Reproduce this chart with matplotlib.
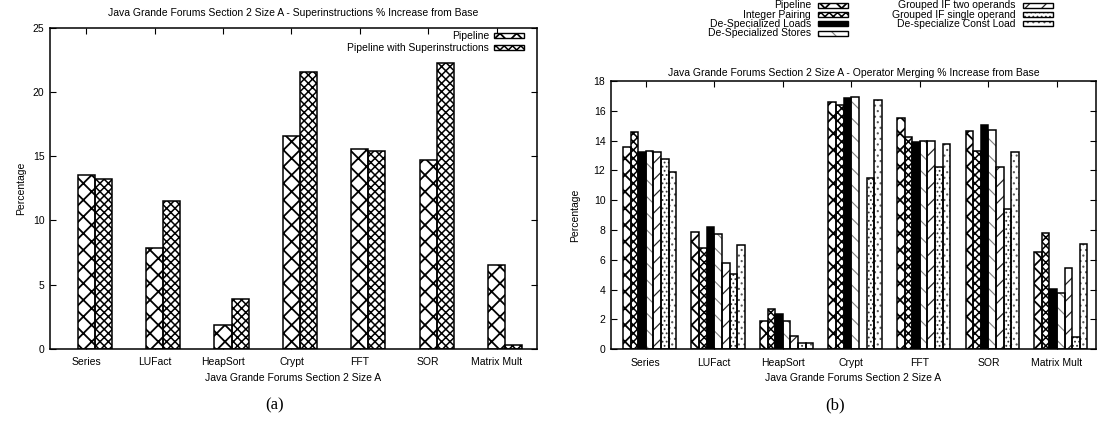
import matplotlib
matplotlib.use("Agg")
import matplotlib.pyplot as plt
from matplotlib.patches import Rectangle
import numpy as np

plt.rcParams['font.family'] = ['Liberation Sans', 'DejaVu Sans']
plt.rcParams['hatch.linewidth'] = 1.0

# ---------------- data ----------------
categories = ["Series", "LUFact", "HeapSort", "Crypt", "FFT", "SOR", "Matrix Mult"]

# chart (a)
a_pipeline = [13.55, 7.84, 1.85, 16.58, 15.55, 14.7, 6.53]
a_superinstr = [13.2, 11.53, 3.9, 21.55, 15.4, 22.25, 0.32]
a_names = ["Pipeline", "Pipeline with Superinstructions"]

# chart (b)
b_pipeline = [13.56, 7.85, 1.88, 16.58, 15.54, 14.67, 6.55]
b_int_pair = [14.56, 6.8, 2.68, 16.4, 14.23, 13.29, 7.78]
b_ds_loads = [13.22, 8.23, 2.35, 16.84, 13.89, 15.05, 4.05]
b_ds_stores = [13.29, 7.72, 1.88, 16.95, 14.0, 14.74, 3.8]
b_if_two = [13.24, 5.79, 0.89, 0.0, 14.0, 12.21, 5.48]
b_if_single = [12.77, 5.03, 0.4, 11.52, 12.26, 9.39, 0.8]
b_const_load = [11.88, 7.02, 0.42, 16.71, 13.76, 13.24, 7.05]
b_names = ["Pipeline", "Integer Pairing", "De-Specialized Loads", "De-Specialized Stores",
           "Grouped IF two operands", "Grouped IF single operand", "De-specialize Const Load"]

title_a = "Java Grande Forums Section 2 Size A - Superinstructions % Increase from Base"
title_b = "Java Grande Forums Section 2 Size A - Operator Merging % Increase from Base"
xlabel = "Java Grande Forums Section 2 Size A"
ylabel = "Percentage"

# ---------------- styling ----------------
W, H = 1099, 423
fig = plt.figure(figsize=(W / 100, H / 100), dpi=100)
FS = 7.5


def px_axes(l, r, t, b):
    return fig.add_axes([l / W, 1 - b / H, (r - l) / W, (b - t) / H])


# style: (hatch, face, hatchcolor, hatch linewidth)
sty_a = [("xx", "white", "black", 1.3), ("xxxx", "white", "black", 1.1)]
sty_b = [("xx", "white", "black", 1.3), ("xxxx", "white", "black", 1.1),
         ("", "black", "black", 1.0), ("\\\\", "white", "0.5", 0.8),
         ("//", "white", "0.15", 0.9), ("....", "white", "0.2", 0.8),
         ("...", "white", "0.35", 0.8)]


def set_hlw(p, lw):
    if hasattr(p, "set_hatch_linewidth"):
        p.set_hatch_linewidth(lw)


def draw_bars(ax, series, styles, gap=2):
    n = len(series)
    x = np.arange(len(categories))
    w = 1.0 / (n + gap)
    for j, (vals, (h, fc, hc, hlw)) in enumerate(zip(series, styles)):
        off = (j - (n - 1) / 2 + 0.5) * w
        bars = ax.bar(x + off, vals, w, color=fc, edgecolor=hc, hatch=h, linewidth=0, zorder=2)
        for p in bars:
            set_hlw(p, hlw)
        ax.bar(x + off, vals, w, fill=False, edgecolor="black", linewidth=1.1, zorder=3)


def style_axes(ax, ymax, ystep, xl):
    ax.set_xlim(*xl)
    ax.set_ylim(0, ymax)
    ax.set_yticks(np.arange(0, ymax + 0.01, ystep))
    ax.set_xticks(np.arange(len(categories)))
    ax.set_xticklabels(categories, fontsize=FS)
    ax.tick_params(axis='both', direction='in', top=True, right=True, length=4,
                   width=0.8, labelsize=FS, pad=4)
    ax.tick_params(axis='x', pad=6)
    for s in ax.spines.values():
        s.set_linewidth(1.1)
    ax.set_xlabel(xlabel, fontsize=FS, labelpad=4)


def legend_entry(text, x_text_right, y, x_box, style):
    h, fc, hc, hlw = style
    fig.text(x_text_right / W, 1 - y / H, text, ha='right', va='center', fontsize=FS)
    bw, bh = 30, 5
    r = Rectangle((x_box / W, 1 - (y + bh / 2) / H), bw / W, bh / H,
                  transform=fig.transFigure, facecolor=fc, edgecolor=hc,
                  hatch=h, linewidth=0)
    set_hlw(r, hlw)
    fig.add_artist(r)
    fig.add_artist(Rectangle((x_box / W, 1 - (y + bh / 2) / H), bw / W, bh / H,
                             transform=fig.transFigure, fill=False, edgecolor='black',
                             linewidth=1.0))


# ---- chart (a) ----
axa = px_axes(50, 537, 27.5, 349)
draw_bars(axa, [a_pipeline, a_superinstr], sty_a)
style_axes(axa, 25, 5, (-0.53, 6.59))
axa.set_ylabel(ylabel, fontsize=FS, labelpad=5)
fig.text(293.5 / W, 1 - 12.5 / H, title_a, ha='center', va='center', fontsize=FS)
legend_entry(a_names[0], 489, 36, 494, sty_a[0])
legend_entry(a_names[1], 489, 48, 494, sty_a[1])
fig.text(275 / W, 1 - 405 / H, "(a)", ha='center', va='center', fontsize=12,
         family=['Liberation Serif', 'DejaVu Serif'])

# ---- chart (b) ----
axb = px_axes(611, 1096, 81, 349.3)
draw_bars(axb, [b_pipeline, b_int_pair, b_ds_loads, b_ds_stores, b_if_two,
                b_if_single, b_const_load], sty_b)
style_axes(axb, 18, 2, (-0.507, 6.57))
axb.set_ylabel(ylabel, fontsize=FS, labelpad=10)
fig.text(853.5 / W, 1 - 73 / H, title_b, ha='center', va='center', fontsize=FS)
rows = [5.3, 14.6, 23.9, 33.2]
for k in range(4):
    legend_entry(b_names[k], 811, rows[k], 817.5, sty_b[k])
for k in range(4, 7):
    legend_entry(b_names[k], 1015.5, rows[k - 4], 1022.5, sty_b[k])
fig.text(835 / W, 1 - 405 / H, "(b)", ha='center', va='center', fontsize=12,
         family=['Liberation Serif', 'DejaVu Serif'])

fig.savefig("out.png", dpi=100)
